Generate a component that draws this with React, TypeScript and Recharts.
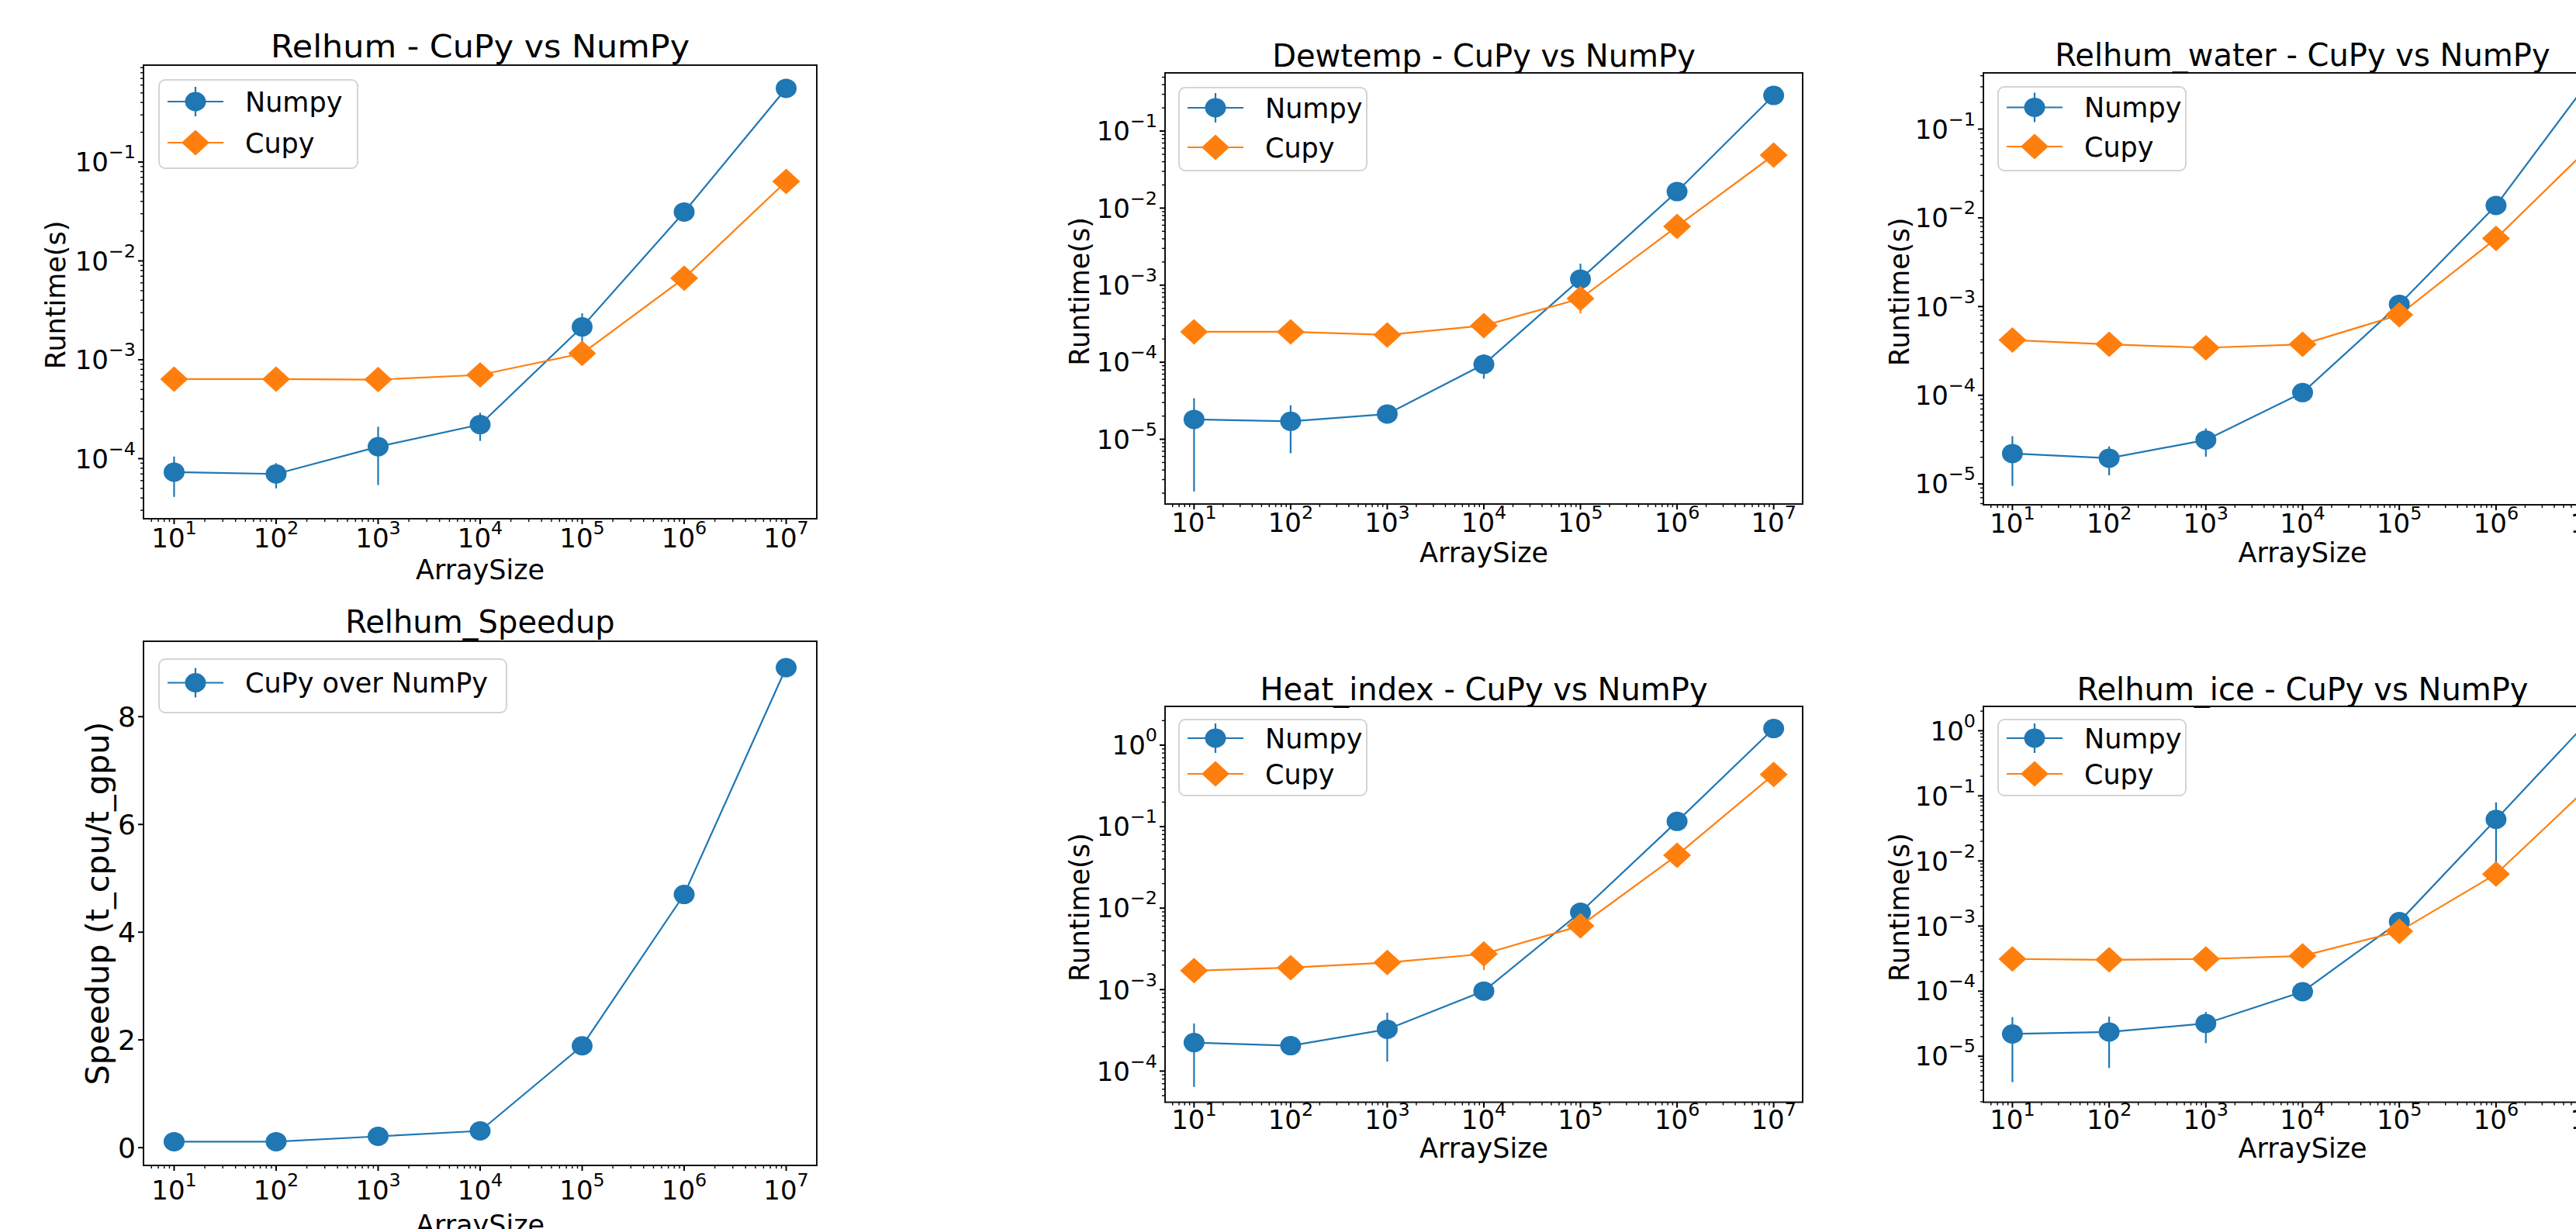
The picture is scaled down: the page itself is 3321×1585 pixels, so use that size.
import React from 'react';
import { LineChart, Line, XAxis, YAxis, ErrorBar, Legend, ReferenceArea } from 'recharts';

const FONT = '"DejaVu Sans", "Liberation Sans", sans-serif';
const NUMPY_COLOR = '#1f77b4';
const CUPY_COLOR = '#ff7f0e';

// ---------- data: runtime in seconds ----------
const arraySizes = [1e1, 1e2, 1e3, 1e4, 1e5, 1e6, 1e7];

const relhumNumpy = [7.3e-5, 7.0e-5, 1.32e-4, 2.21e-4, 2.15e-3, 3.12e-2, 5.56e-1];
const relhumNumpyStd = [3.2e-5, 2.0e-5, 7.8e-5, 7.0e-5, 8.0e-4, 1.5e-3, 1.0e-2];
const relhumCupy = [6.37e-4, 6.37e-4, 6.3e-4, 7.03e-4, 1.16e-3, 6.7e-3, 6.37e-2];
const relhumCupyStd = [1e-5, 1e-5, 1e-5, 2e-5, 6e-5, 2e-4, 1e-3];

const relhumSpeedup = [0.11, 0.11, 0.21, 0.31, 1.89, 4.7, 8.91];
const relhumSpeedupStd = [0.02, 0.02, 0.03, 0.04, 0.06, 0.08, 0.08];

const dewtempNumpy = [1.81e-5, 1.71e-5, 2.13e-5, 9.4e-5, 1.2e-3, 1.64e-2, 2.9e-1];
const dewtempNumpyStd = [1.6e-5, 1.05e-5, 2e-6, 3.3e-5, 7e-4, 1e-3, 1e-2];
const dewtempCupy = [2.48e-4, 2.48e-4, 2.26e-4, 2.99e-4, 6.7e-4, 5.8e-3, 4.88e-2];
const dewtempCupyStd = [5e-6, 5e-6, 5e-6, 2e-5, 2.4e-4, 2e-4, 2e-3];

const waterNumpy = [2.2e-5, 1.95e-5, 3.13e-5, 1.07e-4, 1.06e-3, 1.38e-2, 4.0e-1];
const waterNumpyStd = [1.25e-5, 7e-6, 1.1e-5, 1e-5, 1.5e-4, 5e-4, 1e-2];
const waterCupy = [4.19e-4, 3.75e-4, 3.43e-4, 3.75e-4, 8.05e-4, 5.85e-3, 6.8e-2];
const waterCupyStd = [1e-5, 1e-5, 1e-5, 1e-5, 5e-5, 2e-4, 2e-3];

const heatNumpy = [2.24e-4, 2.05e-4, 3.26e-4, 9.6e-4, 8.9e-3, 1.16e-1, 1.6];
const heatNumpyStd = [1.6e-4, 1e-5, 1.95e-4, 5e-5, 5e-4, 5e-3, 5e-2];
const heatCupy = [1.71e-3, 1.86e-3, 2.15e-3, 2.74e-3, 6.07e-3, 4.46e-2, 4.37e-1];
const heatCupyStd = [2e-5, 2e-5, 5e-5, 1.0e-3, 3e-4, 1e-3, 6e-2];

const iceNumpy = [2.2e-5, 2.36e-5, 3.19e-5, 9.8e-5, 1.17e-3, 4.35e-2, 1.67];
const iceNumpyStd = [1.8e-5, 1.7e-5, 1.6e-5, 1e-5, 1e-4, 3.6e-2, 5e-2];
const iceCupy = [3.12e-4, 3.03e-4, 3.12e-4, 3.48e-4, 8.3e-4, 6.3e-3, 1.59e-1];
const iceCupyStd = [1e-5, 1e-5, 1e-5, 1e-5, 5e-5, 2e-4, 3e-3];

// ---------- axes ----------
const X_EXP: [number, number] = [0.7, 7.3];
const speedupTicks = [0, 2, 4, 6, 8];

const runtimeRows = (numpy: number[], numpyErr: number[], cupy: number[], cupyErr: number[]) =>
  arraySizes.map((size, i) => ({ size, numpy: numpy[i], numpyErr: numpyErr[i], cupy: cupy[i], cupyErr: cupyErr[i] }));

const speedupRows = arraySizes.map((size, i) => ({ size, speedup: relhumSpeedup[i], speedupErr: relhumSpeedupStd[i] }));

// log ticks (1..9 x 10^n) inside the exponent range
const logTicks = (lo: number, hi: number) => {
  const out: number[] = [];
  for (let e = Math.floor(lo); e < Math.ceil(hi); e++) {
    for (let m = 1; m < 10; m++) {
      const v = m * Math.pow(10, e);
      const l = Math.log10(v);
      if (l >= lo && l <= hi) out.push(v);
    }
  }
  return out;
};

const isDecade = (v: number) => {
  const l = Math.log10(v);
  return Math.abs(l - Math.round(l)) < 1e-6;
};
const expText = (v: number) => {
  const e = Math.round(Math.log10(v));
  return e < 0 ? '\u2212' + Math.abs(e) : String(e);
};

// layout inside each chart
const YW = 170;
const XH = 110;
const MT = 60;
const MR = 10;
const MAJOR = 7;
const MINOR = 4;
const PAD = 3;
const TICK_FS = 34;
const SUP = 0.7;
const SUP_RAISE = 0.5;
const LEGEND_FS = 35;

const LogXTick = ({ x, y, payload, base }: any) => {
  const v = payload.value;
  const major = isDecade(v);
  return (
    <g>
      <line x1={x} x2={x} y1={y} y2={y + (major ? MAJOR : MINOR)} stroke="#000" strokeWidth={major ? 2 : 1.4} />
      {major && (
        <text x={x} y={y + base} textAnchor="middle" fontSize={TICK_FS} fontFamily={FONT} fill="#000">
          10
          <tspan dy={-SUP_RAISE * TICK_FS} fontSize={SUP * TICK_FS}>{expText(v)}</tspan>
        </text>
      )}
    </g>
  );
};

const LogYTick = ({ x, y, payload }: any) => {
  const v = payload.value;
  const major = isDecade(v);
  return (
    <g>
      <line x1={x - (major ? MAJOR : MINOR)} x2={x} y1={y} y2={y} stroke="#000" strokeWidth={major ? 2 : 1.4} />
      {major && (
        <text x={x - MAJOR - PAD} y={y + 0.36 * TICK_FS} textAnchor="end" fontSize={TICK_FS} fontFamily={FONT} fill="#000">
          10
          <tspan dy={-SUP_RAISE * TICK_FS} fontSize={SUP * TICK_FS}>{expText(v)}</tspan>
        </text>
      )}
    </g>
  );
};

const LinYTick = ({ x, y, payload }: any) => (
  <g>
    <line x1={x - MAJOR} x2={x} y1={y} y2={y} stroke="#000" strokeWidth={2} />
    <text x={x - MAJOR - PAD} y={y + 0.36 * 36} textAnchor="end" fontSize={36} fontFamily={FONT} fill="#000">
      {payload.value}
    </text>
  </g>
);

const diamondPoints = (cx: number, cy: number, hw = 18, hh = 16.5) =>
  `${cx},${cy - hh} ${cx + hw},${cy} ${cx},${cy + hh} ${cx - hw},${cy}`;

const circleDot = (color: string) => (p: any) =>
  p.cx == null ? <g key={`n${p.index}`} /> : <ellipse key={`c${p.index}`} cx={p.cx} cy={p.cy} rx={13.5} ry={12.5} fill={color} />;

const diamondDot = (p: any) =>
  p.cx == null ? <g key={`n${p.index}`} /> : <polygon key={`d${p.index}`} points={diamondPoints(p.cx, p.cy)} fill={CUPY_COLOR} />;

interface LegendBox { x: number; y: number; w: number; h: number; rows: number[] }

interface PanelCfg {
  id: string;
  title: string;
  titleLen?: number;
  rows: any[];
  speed?: boolean;
  box: [number, number, number, number];
  yExp?: [number, number];
  yLin?: [number, number];
  titleGap: number;
  tickBase: number;
  labelBase: number;
  yLabel: string;
  yLabelBase: number;
  yLabelShift: number;
  yLabelFs: number;
  yLabelLen?: number;
  legend: LegendBox;
}

const panels: PanelCfg[] = [
  {
    id: 'relhum', title: 'Relhum - CuPy vs NumPy', titleLen: 540,
    rows: runtimeRows(relhumNumpy, relhumNumpyStd, relhumCupy, relhumCupyStd),
    box: [185, 84, 1053, 669], yExp: [-4.608, -0.02],
    titleGap: 10, tickBase: 37, labelBase: 78,
    yLabel: 'Runtime(s)', yLabelBase: 101, yLabelShift: 4, yLabelFs: 35,
    legend: { x: 204, y: 102, w: 258, h: 116, rows: [29, 82] },
  },
  {
    id: 'speedup', title: 'Relhum_Speedup', speed: true,
    rows: speedupRows,
    box: [185, 827, 1053, 1503], yLin: [-0.33, 9.4],
    titleGap: 11, tickBase: 44, labelBase: 89,
    yLabel: 'Speedup (t_cpu/t_gpu)', yLabelBase: 45, yLabelShift: 0, yLabelFs: 40, yLabelLen: 469,
    legend: { x: 204, y: 849, w: 450, h: 71, rows: [31.5] },
  },
  {
    id: 'dewtemp', title: 'Dewtemp - CuPy vs NumPy',
    rows: runtimeRows(dewtempNumpy, dewtempNumpyStd, dewtempCupy, dewtempCupyStd),
    box: [1502, 94, 2324, 650], yExp: [-5.84, -0.245],
    titleGap: 8, tickBase: 36, labelBase: 75,
    yLabel: 'Runtime(s)', yLabelBase: 98, yLabelShift: 4, yLabelFs: 35,
    legend: { x: 1519, y: 112, w: 244, h: 109, rows: [27, 78] },
  },
  {
    id: 'water', title: 'Relhum_water - CuPy vs NumPy',
    rows: runtimeRows(waterNumpy, waterNumpyStd, waterCupy, waterCupyStd),
    box: [2557, 94, 3380, 651], yExp: [-5.235, -0.366],
    titleGap: 9, tickBase: 36, labelBase: 74,
    yLabel: 'Runtime(s)', yLabelBase: 96, yLabelShift: 4, yLabelFs: 35,
    legend: { x: 2575, y: 111, w: 244, h: 110, rows: [27.5, 78] },
  },
  {
    id: 'heat', title: 'Heat_index - CuPy vs NumPy',
    rows: runtimeRows(heatNumpy, heatNumpyStd, heatCupy, heatCupyStd),
    box: [1502, 911, 2324, 1421.5], yExp: [-4.382, 0.476],
    titleGap: 8, tickBase: 34, labelBase: 71,
    yLabel: 'Runtime(s)', yLabelBase: 98, yLabelShift: 4, yLabelFs: 35,
    legend: { x: 1519, y: 927, w: 244, h: 100, rows: [25, 71] },
  },
  {
    id: 'ice', title: 'Relhum_ice - CuPy vs NumPy',
    rows: runtimeRows(iceNumpy, iceNumpyStd, iceCupy, iceCupyStd),
    box: [2557, 911, 3380, 1421.5], yExp: [-5.706, 0.374],
    titleGap: 8, tickBase: 34, labelBase: 71,
    yLabel: 'Runtime(s)', yLabelBase: 96, yLabelShift: 4, yLabelFs: 35,
    legend: { x: 2575, y: 927, w: 244, h: 100, rows: [25, 71] },
  },
];

const legendContent = (cfg: PanelCfg) => (props: any) => {
  const lg = cfg.legend;
  const order = cfg.speed ? ['speedup'] : ['numpy', 'cupy'];
  const payload = props.payload || [];
  const items = order.map((k) => payload.find((it: any) => it.dataKey === k)).filter(Boolean);
  return (
    <svg width={lg.w} height={lg.h} style={{ display: 'block', overflow: 'visible' }}>
      <rect x={1} y={1} width={lg.w - 2} height={lg.h - 2} rx={8} fill="#fff" fillOpacity={0.8} stroke="#d4d4d4" strokeWidth={2} />
      {items.map((it: any, i: number) => {
        const cy = lg.rows[i];
        const cx = 48;
        const isCupy = it.dataKey === 'cupy';
        return (
          <g key={it.dataKey}>
            <line x1={12} x2={84} y1={cy} y2={cy} stroke={it.color} strokeWidth={2.2} />
            <line x1={cx} x2={cx} y1={cy - (isCupy ? 14 : 19)} y2={cy + (isCupy ? 14 : 19)} stroke={it.color} strokeWidth={2.2} />
            {isCupy ? (
              <polygon points={diamondPoints(cx, cy)} fill={it.color} />
            ) : (
              <ellipse cx={cx} cy={cy} rx={13.5} ry={12.5} fill={it.color} />
            )}
            <text x={112} y={cy + 0.36 * LEGEND_FS} fontSize={LEGEND_FS} fontFamily={FONT} fill="#000">
              {it.value}
            </text>
          </g>
        );
      })}
    </svg>
  );
};

function Panel({ cfg }: { cfg: PanelCfg }) {
  const [L, T, R, B] = cfg.box;
  const bw = R - L;
  const bh = B - T;
  const W = YW + bw + MR;
  const H = MT + bh + XH;
  const left = L - YW;
  const top = T - MT;

  const xDom: [number, number] = [Math.pow(10, X_EXP[0]), Math.pow(10, X_EXP[1])];
  const xTicks = logTicks(X_EXP[0], X_EXP[1]);
  const yDom: [number, number] = cfg.yLin
    ? cfg.yLin
    : [Math.pow(10, cfg.yExp![0]), Math.pow(10, cfg.yExp![1])];
  const yTicks = cfg.yLin ? speedupTicks : logTicks(cfg.yExp![0], cfg.yExp![1]);

  const xLabel = () => (
    <text x={YW + bw / 2} y={MT + bh + cfg.labelBase} textAnchor="middle" fontSize={35} fontFamily={FONT} fill="#000">
      ArraySize
    </text>
  );
  const yLabel = () => (
    <text
      transform={`translate(${YW - cfg.yLabelBase},${MT + bh / 2 + cfg.yLabelShift}) rotate(-90)`}
      textAnchor="middle"
      fontSize={cfg.yLabelFs}
      fontFamily={FONT}
      fill="#000"
      {...(cfg.yLabelLen ? { textLength: cfg.yLabelLen, lengthAdjust: 'spacingAndGlyphs' } : {})}
    >
      {cfg.yLabel}
    </text>
  );

  return (
    <div style={{ position: 'absolute', left, top, width: W, height: H }}>
      <LineChart width={W} height={H} data={cfg.rows} margin={{ top: MT, right: MR, bottom: 0, left: 0 }}>
        <XAxis
          type="number"
          dataKey="size"
          scale="log"
          domain={xDom}
          allowDataOverflow
          ticks={xTicks}
          interval={0}
          height={XH}
          tickSize={0}
          tickMargin={0}
          axisLine={false}
          tickLine={false}
          tick={(p: any) => <LogXTick {...p} base={cfg.tickBase} />}
          label={xLabel}
        />
        <YAxis
          type="number"
          scale={cfg.yLin ? 'linear' : 'log'}
          domain={yDom}
          allowDataOverflow
          ticks={yTicks}
          interval={0}
          width={YW}
          tickSize={0}
          tickMargin={0}
          axisLine={false}
          tickLine={false}
          tick={(p: any) => (cfg.yLin ? <LinYTick {...p} /> : <LogYTick {...p} />)}
          label={yLabel}
        />
        <ReferenceArea
          x1={xDom[0]}
          x2={xDom[1]}
          y1={yDom[0]}
          y2={yDom[1]}
          ifOverflow="visible"
          fill="none"
          fillOpacity={0}
          stroke="#111"
          strokeWidth={2}
        />
        {cfg.speed ? (
          <Line
            type="linear"
            dataKey="speedup"
            name="CuPy over NumPy"
            stroke={NUMPY_COLOR}
            strokeWidth={2.2}
            dot={circleDot(NUMPY_COLOR)}
            activeDot={false}
            isAnimationActive={false}
          >
            <ErrorBar dataKey="speedupErr" direction="y" width={0} stroke={NUMPY_COLOR} strokeWidth={2.2} isAnimationActive={false} />
          </Line>
        ) : (
          [
            <Line
              key="numpy"
              type="linear"
              dataKey="numpy"
              name="Numpy"
              stroke={NUMPY_COLOR}
              strokeWidth={2.2}
              dot={circleDot(NUMPY_COLOR)}
              activeDot={false}
              isAnimationActive={false}
            >
              <ErrorBar dataKey="numpyErr" direction="y" width={0} stroke={NUMPY_COLOR} strokeWidth={2.2} isAnimationActive={false} />
            </Line>,
            <Line
              key="cupy"
              type="linear"
              dataKey="cupy"
              name="Cupy"
              stroke={CUPY_COLOR}
              strokeWidth={2.2}
              dot={diamondDot}
              activeDot={false}
              isAnimationActive={false}
            >
              <ErrorBar dataKey="cupyErr" direction="y" width={0} stroke={CUPY_COLOR} strokeWidth={2.2} isAnimationActive={false} />
            </Line>,
          ]
        )}
        <Legend
          layout="horizontal"
          verticalAlign="middle"
          align="center"
          width={cfg.legend.w}
          height={cfg.legend.h}
          wrapperStyle={{
            left: cfg.legend.x - left,
            top: cfg.legend.y - top,
            width: cfg.legend.w,
            height: cfg.legend.h,
            margin: 0,
            padding: 0,
          }}
          content={legendContent(cfg)}
        />
      </LineChart>
      <svg
        width={W}
        height={H}
        style={{ position: 'absolute', left: 0, top: 0, overflow: 'visible', pointerEvents: 'none' }}
      >
        <text
          x={YW + bw / 2}
          y={MT - cfg.titleGap}
          textAnchor="middle"
          fontSize={40}
          fontFamily={FONT}
          fill="#000"
          {...(cfg.titleLen ? { textLength: cfg.titleLen, lengthAdjust: 'spacingAndGlyphs' } : {})}
        >
          {cfg.title}
        </text>
      </svg>
    </div>
  );
}

export default function App() {
  return (
    <div
      style={{
        position: 'fixed',
        left: 0,
        top: 0,
        width: 3321,
        height: 1585,
        overflow: 'hidden',
        background: '#fff',
      }}
    >
      {panels.map((p) => (
        <Panel key={p.id} cfg={p} />
      ))}
    </div>
  );
}
